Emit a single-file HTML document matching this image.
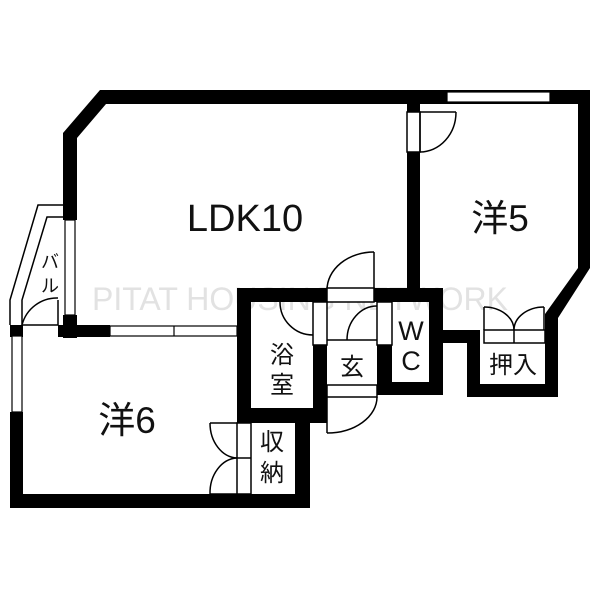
<!DOCTYPE html>
<html><head><meta charset="utf-8"><style>
html,body{margin:0;padding:0;background:#fff;width:600px;height:600px;overflow:hidden}
svg{display:block}
text{font-family:"Liberation Sans","Noto Sans CJK JP",sans-serif;fill:#111}
</style></head><body>
<svg width="600" height="600" viewBox="0 0 600 600" xmlns="http://www.w3.org/2000/svg">
<rect width="600" height="600" fill="#fff"/>
<text x="300" y="310" font-size="32" style="fill:#e2e2e2" text-anchor="middle">PITAT HOUSING NETWORK</text>
<g fill="#000">
<polygon points="100,90 590,90 590,104 106,104 77,138 77,220 63,220 63,133"/>
<rect x="63" y="315" width="14" height="23"/>
<rect x="10" y="325" width="13" height="12"/>
<rect x="58" y="325" width="52" height="12"/>
<rect x="10" y="325" width="13" height="10"/>
<rect x="10" y="412" width="13" height="96"/>
<rect x="10" y="494" width="300" height="14"/>
<rect x="237" y="288" width="14" height="135"/>
<rect x="237" y="408" width="90" height="15"/>
<rect x="295" y="408" width="15" height="100"/>
<rect x="237" y="288" width="206" height="14"/>
<rect x="313" y="302" width="14" height="120"/>
<rect x="377" y="302" width="15" height="93"/>
<rect x="429" y="288" width="14" height="107"/>
<rect x="377" y="382" width="66" height="13"/>
<rect x="407" y="90" width="13" height="212"/>
<polygon points="578,90 590,90 590,268 558,318 558,397 545,397 545,314 578,268"/>
<rect x="443" y="330" width="37" height="13"/>
<rect x="467" y="330" width="13" height="67"/>
<rect x="467" y="384" width="91" height="13"/>
</g>
<rect x="447" y="92" width="103" height="10" fill="#fff" stroke="#000" stroke-width="1.2"/>
<rect x="65" y="220" width="10" height="95" fill="#fff" stroke="#000" stroke-width="1.2"/>
<rect x="110" y="326" width="127" height="10" fill="#fff" stroke="#000" stroke-width="1.2"/>
<line x1="174" y1="326" x2="174" y2="336" stroke="#000" stroke-width="1.2"/>
<rect x="12" y="336" width="10" height="76" fill="#fff" stroke="#000" stroke-width="1.2"/>
<g fill="none" stroke="#000" stroke-width="1.5">
<polyline points="63,205 38,205 10,300 10,325"/>
<polyline points="63,217 47,217 22,300 22,325"/>
<line x1="23" y1="325" x2="58" y2="325"/>
<line x1="58" y1="300" x2="58" y2="325"/>
<path d="M22,325 A36,36 0 0 1 58,298"/>
</g>
<g fill="none" stroke="#000" stroke-width="1.5">
<rect x="407" y="112" width="13" height="40" fill="#fff"/>
<line x1="420" y1="112" x2="420" y2="152"/>
<line x1="420" y1="112" x2="456" y2="112"/>
<path d="M456,112 A36,40 0 0 1 420,152"/>
<line x1="374" y1="252" x2="374" y2="302"/>
<path d="M327,290 A47,38 0 0 1 374,252"/>
<rect x="327" y="288" width="47" height="14" fill="#fff"/>
<path d="M280,302 A33,33 0 0 0 313,335"/>
<rect x="313" y="302" width="14" height="43" fill="#fff"/>
<rect x="377" y="302" width="15" height="43" fill="#fff"/>
<path d="M347,340 A30,34 0 0 1 377,306"/>
<line x1="327" y1="340" x2="377" y2="340"/>
<rect x="327" y="385" width="50" height="12" fill="#fff"/>
<path d="M377,397 A50,36 0 0 1 327,433"/>
<line x1="327" y1="397" x2="327" y2="433"/>
<rect x="237" y="423" width="14" height="71" fill="#fff"/>
<line x1="237" y1="458" x2="251" y2="458"/>
<path d="M210,423 A28,35 0 0 0 237,458"/>
<path d="M210,494 A28,35 0 0 1 237,458"/>
<line x1="210" y1="423" x2="237" y2="423"/>
<line x1="210" y1="494" x2="237" y2="494"/>
<rect x="484" y="330" width="61" height="13" fill="#fff"/>
<line x1="514" y1="330" x2="514" y2="343"/>
<line x1="484" y1="307" x2="484" y2="330"/>
<line x1="544" y1="307" x2="544" y2="330"/>
<path d="M484,307 A30,23 0 0 1 514,330"/>
<path d="M544,307 A30,23 0 0 0 514,330"/>
</g>
<text x="245" y="231" font-size="38" text-anchor="middle">LDK10</text>
<text x="500" y="231" font-size="37" text-anchor="middle">洋5</text>
<text x="127" y="433" font-size="37" text-anchor="middle">洋6</text>
<text x="282" y="363" font-size="24" text-anchor="middle">浴</text>
<text x="282" y="393" font-size="24" text-anchor="middle">室</text>
<text x="352" y="375" font-size="24" text-anchor="middle">玄</text>
<text x="411" y="340" font-size="27" text-anchor="middle">W</text>
<text x="411" y="370" font-size="27" text-anchor="middle">C</text>
<text x="513" y="373" font-size="24" text-anchor="middle">押入</text>
<text x="272" y="450" font-size="24" text-anchor="middle">収</text>
<text x="272" y="481" font-size="24" text-anchor="middle">納</text>
<text x="50" y="268" font-size="18" text-anchor="middle">バ</text>
<text x="50" y="292" font-size="18" text-anchor="middle">ル</text>
</svg>
</body></html>
